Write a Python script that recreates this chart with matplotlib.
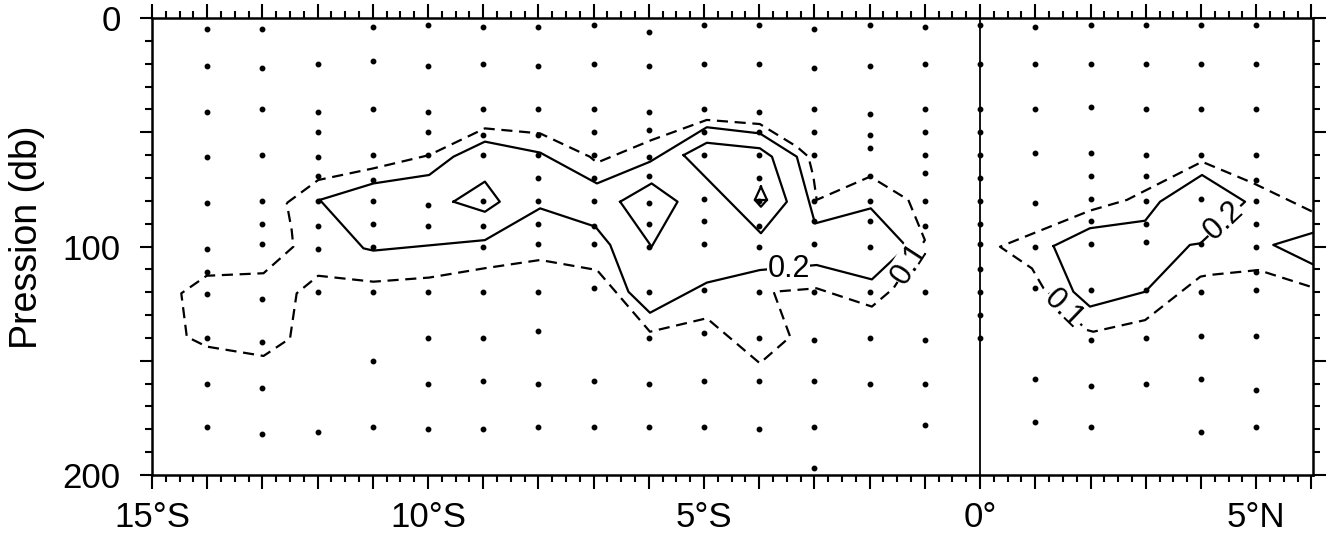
import matplotlib
matplotlib.use("Agg")
import matplotlib.pyplot as plt
from matplotlib.ticker import FixedLocator, MultipleLocator

plt.rcParams['font.family'] = ['Liberation Sans', 'DejaVu Sans']

# station positions: latitude (deg, negative = south) -> sampled pressures (db)
station_pres = {
    -14: [5, 21, 41, 61, 81, 101, 111, 121, 140, 160, 179],
    -13: [5, 22, 40, 60, 80, 90, 99, 123, 142, 162, 182],
    -12: [20, 41, 50, 61, 69, 80, 91, 101, 120, 181],
    -11: [4, 19, 40, 60, 71, 80, 90, 100, 120, 150, 179],
    -10: [3, 21, 41, 50, 60, 82, 91, 120, 140, 160, 180],
    -9: [4, 20, 40, 51, 60, 80, 91, 100, 120, 140, 159, 180],
    -8: [4, 21, 40, 51, 60, 70, 80, 90, 99, 120, 137, 160, 179],
    -7: [3, 20, 40, 50, 60, 70, 80, 91, 99, 118, 159, 179],
    -6: [6, 21, 41, 49, 61, 69, 81, 90, 100, 120, 140, 160, 179],
    -5: [3, 20, 40, 50, 60, 79, 89, 99, 119, 138, 159, 179],
    -4: [3, 20, 41, 50, 60, 70, 80, 91, 100, 120, 140, 159, 180],
    -3: [5, 22, 40, 50, 60, 80, 89, 99, 120, 141, 159, 179, 197],
    -2: [3, 21, 42, 51, 57, 69, 80, 89, 100, 120, 140, 160],
    -1: [4, 20, 40, 50, 60, 68, 80, 91, 120, 141, 160, 178],
    0: [3, 20, 40, 50, 60, 70, 80, 90, 99, 110, 120, 130, 140],
    1: [4, 20, 40, 59, 81, 100, 118, 158, 177],
    2: [3, 20, 39, 59, 69, 79, 89, 99, 119, 141, 161, 179],
    3: [3, 20, 40, 60, 69, 80, 90, 98, 119, 140, 160],
    4: [3, 20, 40, 60, 79, 99, 120, 139, 158, 181],
    5: [3, 20, 40, 60, 71, 80, 90, 100, 111, 119, 139, 163, 179],
}

# 0.1 isoline (dashed), west part
c01_west_lat = [-12.56, -11.99, -10.99, -9.98, -8.97, -7.97, -7.07, -6.94, -5.95, -4.95,
                -3.99, -3.32, -3.11, -3.02, -2.96, -1.99, -1.30, -1.00, -1.57, -1.96,
                -2.96, -3.74, -3.44, -3.99, -4.95, -5.98, -6.94, -7.97, -8.97, -9.98,
                -10.99, -11.99, -12.38, -12.50, -12.98, -14.01, -14.37, -14.47, -14.01,
                -12.98, -12.44, -12.47, -12.56]
c01_west_p = [81, 70.9, 65.8, 60, 48.3, 50.5, 60.7, 63.3, 53.4, 44.6,
              46.4, 56.3, 60.7, 69.4, 79.6, 69.4, 79.6, 97.2, 118.3, 126.3,
              118.3, 119.8, 139.5, 151.1, 131.4, 137.3, 110.3, 105.9, 109.5, 113.6,
              115.4, 112.8, 120.5, 140.2, 147.9, 143.8, 139.5, 120.5, 112.8,
              111.7, 100.1, 92.8, 81]

# 0.1 isoline, east part
c01_east_lat = [6.3, 4.95, 4.02, 2.66, 1.99, 0.36, 0.94, 1.15, 1.93, 2.05, 2.99, 3.99, 4.14, 5.04, 6.3]
c01_east_p = [88, 72.3, 62.9, 79.6, 84.3, 100.1, 109.6, 118.3, 136.5, 137.3, 132.2, 113.2, 112.5, 110.3, 120]

# 0.2 isoline (solid), west part
c02_west_lat = [-11.96, -10.99, -9.98, -9.54, -8.97, -7.97, -6.94, -5.98, -4.95, -3.99,
                -3.32, -3.14, -2.99, -1.98, -1.33, -1.96, -2.96, -3.99, -4.95, -5.98,
                -6.37, -6.70, -6.97, -7.97, -8.97, -10.99, -11.17, -11.96]
c02_west_p = [79.6, 72.4, 68.7, 60.7, 54.1, 58.9, 72.4, 62.9, 47.8, 50.5,
              60.7, 76.7, 89.9, 83.3, 100.1, 114.4, 108.1, 110.3, 115.8, 129,
              119.8, 99.3, 91.3, 83.3, 97.2, 101.8, 100.8, 79.6]

# 0.2 isoline, east part
c02_east_lat = [1.33, 1.99, 2.99, 3.26, 4.02, 4.80, 3.99, 3.80, 2.99, 1.99, 1.69, 1.33]
c02_east_p = [99.8, 92, 88.7, 80.4, 68.7, 80.4, 98.6, 99.3, 119.8, 126.3, 119.8, 99.8]

# closed 0.2 cells
cell_a_lat = [-9.54, -8.97, -8.70, -8.97, -9.54]
cell_a_p = [80.4, 71.6, 80.4, 84.8, 80.4]
cell_b_lat = [-6.52, -5.95, -5.48, -5.95, -6.52]
cell_b_p = [80.4, 72.4, 80.4, 100.1, 80.4]
cell_c_lat = [-5.37, -4.95, -3.99, -3.77, -3.50, -3.97, -5.37]
cell_c_p = [60, 54.6, 57, 60.7, 80.4, 94.2, 60]
cell_d_lat = [-3.97, -4.08, -3.97, -3.86, -3.97]
cell_d_p = [73.8, 79.6, 82.6, 79.6, 73.8]
cell_d2_lat = [-4.08, -3.86]
cell_d2_p = [79.6, 79.6]
cell_e_lat = [6.3, 5.31, 6.3]
cell_e_p = [92, 99.3, 111]

# contour labels: (lat, pressure, text, rotation)
clabels = [(-3.47, 110.0, '0.2', 0), (-1.28, 107.5, '0.1', 57),
           (1.52, 127.5, '0.1', -44), (4.41, 88.5, '0.2', 43)]

x_labels = {-15: '15°S', -10: '10°S', -5: '5°S', 0: '0°', 5: '5°N'}

fig = plt.figure(figsize=(13.3, 5.41), dpi=100)
ax = fig.add_axes([0.1143, 0.122, 0.8729, 0.8447])

dash = (0, (5, 3))
lw = 1.6
ax.plot(c01_west_lat, c01_west_p, color='black', lw=lw, ls=dash)
ax.plot(c01_east_lat, c01_east_p, color='black', lw=lw, ls=dash)
for xs, ys in [(c02_west_lat, c02_west_p), (c02_east_lat, c02_east_p),
               (cell_a_lat, cell_a_p), (cell_b_lat, cell_b_p), (cell_c_lat, cell_c_p),
               (cell_d_lat, cell_d_p), (cell_d2_lat, cell_d2_p), (cell_e_lat, cell_e_p)]:
    ax.plot(xs, ys, color='black', lw=lw)

# station dots
for lat, pres in station_pres.items():
    ax.plot([lat] * len(pres), pres, ls='none', marker='o', ms=3.2, color='black')

ax.axvline(0, color='black', lw=1.3)

for lat, p, txt, rot in clabels:
    ax.text(lat, p, txt, fontsize=22, ha='center', va='center', rotation=rot,
            rotation_mode='anchor',
            bbox=dict(facecolor='white', edgecolor='none', pad=0.5))

ax.set_xlim(-15, 6.03)
ax.set_ylim(200, 0)

ax.xaxis.set_major_locator(FixedLocator(range(-15, 7)))
ax.set_xticklabels([x_labels.get(v, '') for v in range(-15, 7)])
ax.xaxis.set_minor_locator(MultipleLocator(0.25))
ax.yaxis.set_major_locator(FixedLocator([0, 50, 100, 150, 200]))
ax.set_yticklabels(['0', '', '100', '', '200'])
ax.yaxis.set_minor_locator(MultipleLocator(10))

ax.tick_params(which='both', direction='out', top=True, right=True, width=1.5,
               labelsize=25, color='black')
ax.tick_params(axis='x', which='major', length=10, pad=9)
ax.tick_params(axis='x', which='minor', length=5)
ax.tick_params(axis='y', which='major', length=9, pad=13.5)
ax.tick_params(axis='y', which='minor', length=5)

for s in ax.spines.values():
    s.set_linewidth(1.8)

ax.set_ylabel('Pression (db)', fontsize=27)
ax.yaxis.set_label_coords(-0.092, 0.52)

fig.savefig('out.png', dpi=100)
